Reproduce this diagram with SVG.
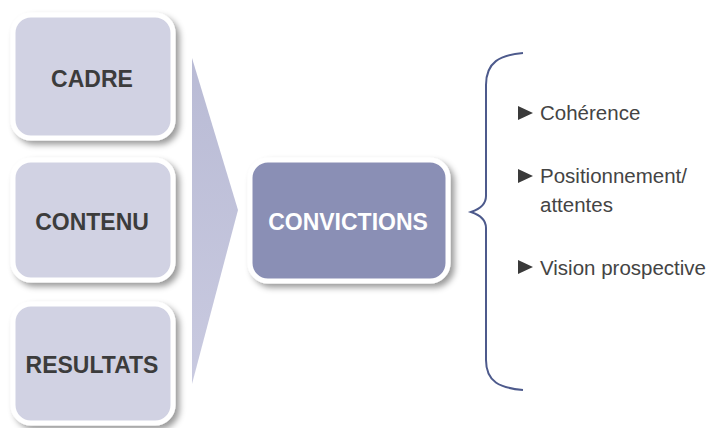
<svg xmlns="http://www.w3.org/2000/svg" width="713" height="428" viewBox="0 0 713 428">
<defs>
<style>
.box{stroke:#fff;stroke-width:5;filter:url(#sh)}
.light{fill:#d1d2e3}
.dark{fill:#8a8fb5}
.lbl{font-family:"Liberation Sans",Arial,sans-serif;font-weight:bold;font-size:23px;text-anchor:middle}
.item{font-family:"Liberation Sans",Arial,sans-serif;font-size:20.5px;fill:#444}
.bul{fill:#3a3a3a}
</style>
<filter id="sh" x="-20%" y="-20%" width="150%" height="150%">
<feDropShadow dx="4" dy="4" stdDeviation="3" flood-color="#000" flood-opacity="0.4"/>
</filter>
<linearGradient id="tg" x1="0" y1="0" x2="0" y2="1">
<stop offset="0" stop-color="#b9bbd5"/>
<stop offset="1" stop-color="#c9cae0"/>
</linearGradient>
</defs>
<g id="connectors">
<path id="chevron" d="M192,58 L238,210 L192,384 Z" fill="url(#tg)"/>
<path id="brace" d="M523,53 C500,55 486,62 486,85 L486,196 Q486,207 471,212 Q486,217 486,228 L486,360 C486,382 500,388 523,390" fill="none" stroke="#4d5a8c" stroke-width="2"/>
</g>
<g id="cadre">
<rect class="box light" x="13" y="15" width="160" height="123" rx="18"/>
<text class="lbl" x="92" y="86.5" fill="#3c3c3c">CADRE</text>
</g>
<g id="contenu">
<rect class="box light" x="13" y="160" width="160" height="120" rx="18"/>
<text class="lbl" x="92" y="230" fill="#3c3c3c">CONTENU</text>
</g>
<g id="resultats">
<rect class="box light" x="13" y="304" width="160" height="119" rx="18"/>
<text class="lbl" x="92" y="373" fill="#3c3c3c">RESULTATS</text>
</g>
<g id="convictions">
<rect class="box dark" x="250" y="160" width="198" height="121" rx="18"/>
<text class="lbl" x="348" y="230" fill="#fff">CONVICTIONS</text>
</g>
<g id="items">
<path class="bul" d="M518,106 L533,113 L518,120 Z"/>
<text class="item" x="540" y="120">Cohérence</text>
<path class="bul" d="M518,169 L533,176 L518,183 Z"/>
<text class="item" x="540" y="183">Positionnement/</text>
<text class="item" x="540" y="211.5">attentes</text>
<path class="bul" d="M518,260 L533,267 L518,274 Z"/>
<text class="item" x="540" y="274.5">Vision prospective</text>
</g>
</svg>
